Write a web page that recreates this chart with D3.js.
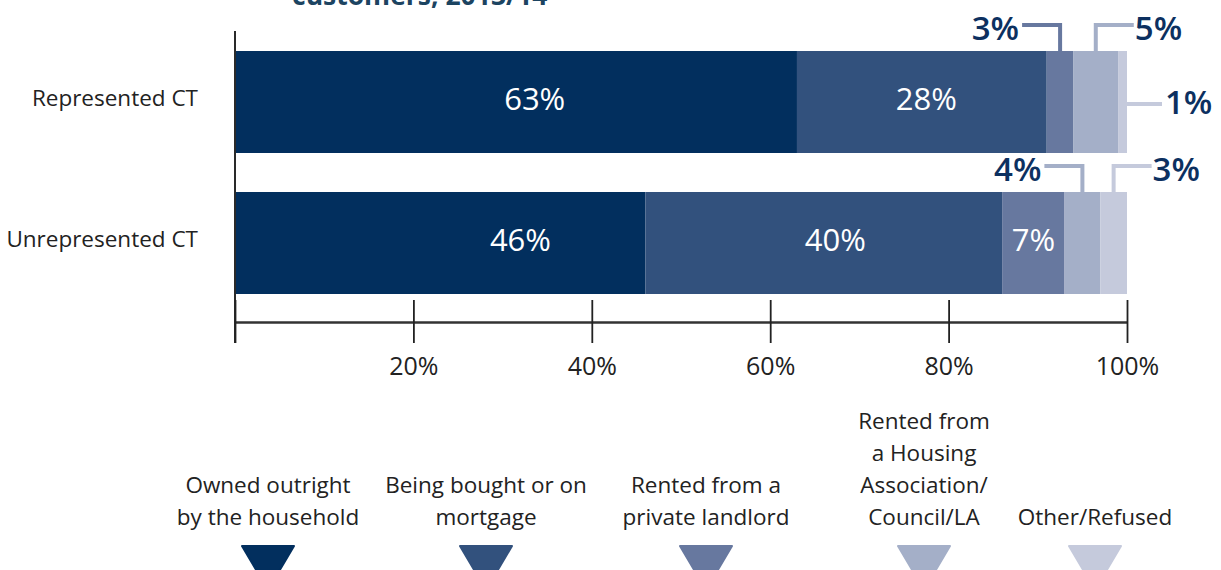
<!DOCTYPE html>
<html>
<head>
<meta charset="utf-8">
<script src="https://cdn.jsdelivr.net/npm/d3@7/dist/d3.min.js"></script>
<style>
  html, body { margin: 0; padding: 0; background: #fff; }
  svg { display: block; font-family: "Open Sans", "Noto Sans", sans-serif; }
</style>
</head>
<body>
<svg id="chart" width="1221" height="570"></svg>
<script>
// Housing tenure of represented and unrepresented CT customers (percent)
const categories = ["Represented CT", "Unrepresented CT"];
const tenureTypes = [
  "Owned outright by the household",
  "Being bought or on mortgage",
  "Rented from a private landlord",
  "Rented from a Housing Association/Council/LA",
  "Other/Refused"
];
const representedValues = [63, 28, 3, 5, 1];
const unrepresentedValues = [46, 40, 7, 4, 3];
const tickValues = [0, 20, 40, 60, 80, 100];
const tickLabels = ["", "20%", "40%", "60%", "80%", "100%"];

// Legend captions, one line per entry
const legendLines = [
  ["Owned outright", "by the household"],
  ["Being bought or on", "mortgage"],
  ["Rented from a", "private landlord"],
  ["Rented from", "a Housing", "Association/", "Council/LA"],
  ["Other/Refused"]
];

const colors = ["#022f5e", "#32517d", "#67789f", "#a4afc8", "#c5cadc"];
const labelInk = "#0c3060";

// Where the in-bar labels sit (in percent units along the axis)
const insideLabelAt = [[33.6, 77.5, null, null, null], [32.0, 67.3, 89.5, null, null]];
// Which segments get a callout, and on which side
const calloutSide = [[null, null, "left", "right", "end"], [null, null, null, "left", "right"]];

const svg = d3.select("#chart");

const x = d3.scaleLinear().domain([0, 100]).range([235, 1127]);
const y = d3.scaleBand().domain(categories).range([51, 294]).paddingInner(0.2766).paddingOuter(0);

const rows = [representedValues, unrepresentedValues].map((vals, r) => {
  let acc = 0;
  return vals.map((v, i) => {
    const seg = { row: r, cat: categories[r], i, value: v, x0: acc, x1: acc + v };
    acc += v;
    return seg;
  });
});

// Title, running off the top edge
svg.append("text")
  .attr("x", 292).attr("y", 5)
  .attr("font-size", 26.5).attr("font-weight", 700)
  .attr("fill", "#1c4461")
  .text("customers, 2013/14");

// Stacked bars
const g = svg.append("g");
rows.forEach(segs => {
  g.selectAll(null).data(segs).enter().append("rect")
    .attr("x", d => x(d.x0))
    .attr("y", d => y(d.cat))
    .attr("width", d => x(d.x1) - x(d.x0))
    .attr("height", y.bandwidth())
    .attr("fill", d => colors[d.i]);
});

// Left axis line
svg.append("line")
  .attr("x1", x(0)).attr("x2", x(0))
  .attr("y1", 31).attr("y2", 343)
  .attr("stroke", "#2a2a2a").attr("stroke-width", 2);

// Category labels
svg.selectAll(null).data(categories).enter().append("text")
  .attr("x", 198)
  .attr("y", d => y(d) + y.bandwidth() / 2 + 4)
  .attr("text-anchor", "end")
  .attr("font-size", 22.5)
  .attr("fill", "#222")
  .text(d => d);

// Bottom axis with ticks crossing the line
const axisY = 322;
const axis = d3.axisBottom(x)
  .tickValues(tickValues)
  .tickSize(0)
  .tickFormat((d, i) => tickLabels[i]);
const ax = svg.append("g").attr("transform", `translate(0,${axisY})`).call(axis);
ax.select(".domain").attr("stroke", "#333").attr("stroke-width", 2.5);
ax.selectAll(".tick line")
  .attr("y1", -22).attr("y2", 21)
  .attr("stroke", "#222").attr("stroke-width", 1.8);
ax.selectAll(".tick text")
  .attr("y", 53)
  .attr("dy", 0)
  .attr("font-size", 25)
  .attr("font-family", "'Open Sans', sans-serif")
  .attr("fill", "#222");

// In-bar value labels
rows.forEach((segs, r) => {
  segs.forEach(d => {
    const at = insideLabelAt[r][d.i];
    if (at === null) return;
    svg.append("text")
      .attr("x", x(at))
      .attr("y", y(d.cat) + y.bandwidth() / 2 + 8)
      .attr("text-anchor", "middle")
      .attr("font-size", 31)
      .attr("font-weight", 500)
      .attr("fill", "#fff")
      .text(d.value + "%");
  });
});

// Callouts for the thin segments
rows.forEach((segs, r) => {
  segs.forEach(d => {
    const side = calloutSide[r][d.i];
    if (!side) return;
    const top = y(d.cat);
    const cx = x((d.x0 + d.x1) / 2);
    const stroke = colors[d.i];
    let path, tx, ty, anchor;
    if (side === "left" || side === "right") {
      const ly = top - 26;
      const ex = side === "left" ? cx - 38 : cx + 38;
      path = `M${cx},${top} V${ly} H${ex}`;
      tx = side === "left" ? ex - 3 : ex + 1;
      ty = ly + 15;
      anchor = side === "left" ? "end" : "start";
    } else {
      const ly = top + y.bandwidth() / 2 + 2;
      const sx = x(d.x1);
      const ex = sx + 35;
      path = `M${sx},${ly} H${ex}`;
      tx = ex + 3;
      ty = ly + 10;
      anchor = "start";
    }
    svg.append("path")
      .attr("d", path)
      .attr("fill", "none")
      .attr("stroke", stroke)
      .attr("stroke-width", 4);
    svg.append("text")
      .attr("x", tx).attr("y", ty)
      .attr("text-anchor", anchor)
      .attr("font-size", 33)
      .attr("font-weight", 600)
      .attr("fill", labelInk)
      .text(d.value + "%");
  });
});

// Legend: captions above downward triangles
const legendX = [268, 486, 706, 924, 1095];
const legend = svg.append("g");
tenureTypes.forEach((t, i) => {
  const lines = legendLines[i];
  const item = legend.append("g").attr("transform", `translate(${legendX[i]},0)`);
  lines.forEach((ln, k) => {
    item.append("text")
      .attr("x", 0)
      .attr("y", 525 - (lines.length - 1 - k) * 32)
      .attr("text-anchor", "middle")
      .attr("font-size", 22.5)
      .attr("fill", "#222")
      .text(ln);
  });
  item.append("path")
    .attr("d", d3.line()([[-26, 546], [26, 546], [0, 590]]) + "Z")
    .attr("fill", colors[i])
    .attr("stroke", colors[i])
    .attr("stroke-width", 2)
    .attr("stroke-linejoin", "round")
    .append("title").text(t);
});
</script>
</body>
</html>
